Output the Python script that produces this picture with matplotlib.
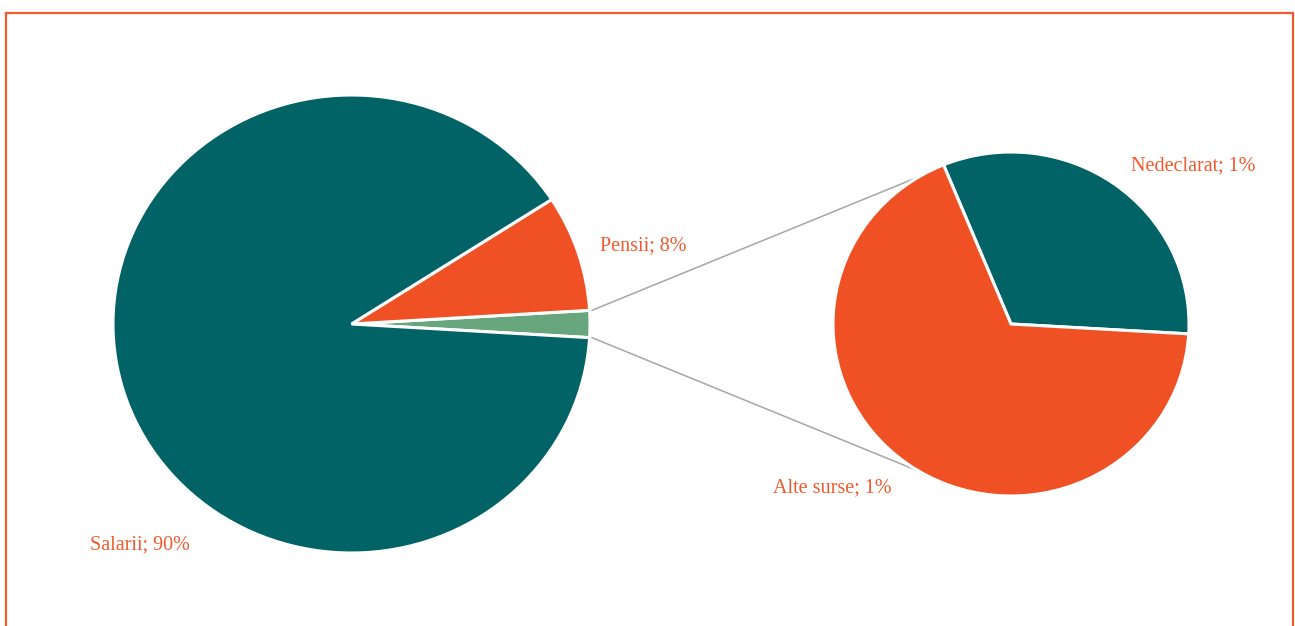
import matplotlib.pyplot as plt
from matplotlib.patches import Rectangle, ConnectionPatch
import numpy as np

# main pie: share of income sources (%)
main_labels = ['Salarii', 'Pensii', 'Altele']
main_values = [89.9, 8.2, 1.9]
main_text = ['Salarii; 90%', 'Pensii; 8%', '']

# secondary pie: breakdown of "Altele"
sub_labels = ['Nedeclarat', 'Alte surse']
sub_values = [0.61, 1.29]
sub_text = ['Nedeclarat; 1%', 'Alte surse; 1%']

TEAL = '#026367'
ORANGE = '#F05124'
GREEN = '#68A67E'
LABEL = '#F0592B'

W, H = 1295, 626
fig = plt.figure(figsize=(W / 100, H / 100), dpi=100)

# outer border
fig.patches.append(Rectangle((6 / W, -0.05), (1293 - 6) / W, (H - 13) / H + 0.05,
                             transform=fig.transFigure, fill=False,
                             edgecolor='#F05A2E', linewidth=1.6))

def px_axes(x0, x1, y0, y1):
    return fig.add_axes([x0 / W, 1 - y1 / H, (x1 - x0) / W, (y1 - y0) / H])

ax1 = px_axes(113, 590, 95, 553)
ax2 = px_axes(833, 1189, 152, 496)

# green slice centred on 0 deg
start1 = -main_values[2] / 100 * 360 / 2
w1, _ = ax1.pie(main_values[::-1], colors=[GREEN, ORANGE, TEAL], startangle=start1,
                radius=1, wedgeprops=dict(edgecolor='white', linewidth=2.2))
w2, _ = ax2.pie(sub_values, colors=[TEAL, ORANGE], startangle=-3.3,
                radius=1, wedgeprops=dict(edgecolor='white', linewidth=2.2))
for ax in (ax1, ax2):
    ax.set_xlim(-1.0, 1.0)
    ax.set_ylim(-1.0, 1.0)
    ax.set_aspect('auto')
    ax.axis('off')

# connector lines
a_top = np.deg2rad(start1 + main_values[2] / 100 * 360)
a_bot = np.deg2rad(start1)
for a_main, a_sub in [(a_top, np.deg2rad(121)), (a_bot, np.deg2rad(-121))]:
    con = ConnectionPatch(xyA=(np.cos(a_main) * 1.01, np.sin(a_main)), coordsA=ax1.transData,
                          xyB=(np.cos(a_sub), np.sin(a_sub)), coordsB=ax2.transData,
                          color='#A6A6A6', linewidth=1.1, zorder=0)
    fig.add_artist(con)

font = dict(family=['Liberation Serif', 'DejaVu Serif'], fontsize=14.5, color=LABEL,
            ha='center', va='center')
fig.text(140 / W, 1 - 545 / H, main_text[0], **font)
fig.text(643 / W, 1 - 246 / H, main_text[1], **font)
fig.text(1193 / W, 1 - 166 / H, sub_text[0], **font)
fig.text(832 / W, 1 - 488 / H, sub_text[1], **font)

fig.savefig('out.png', dpi=100, facecolor='white')
